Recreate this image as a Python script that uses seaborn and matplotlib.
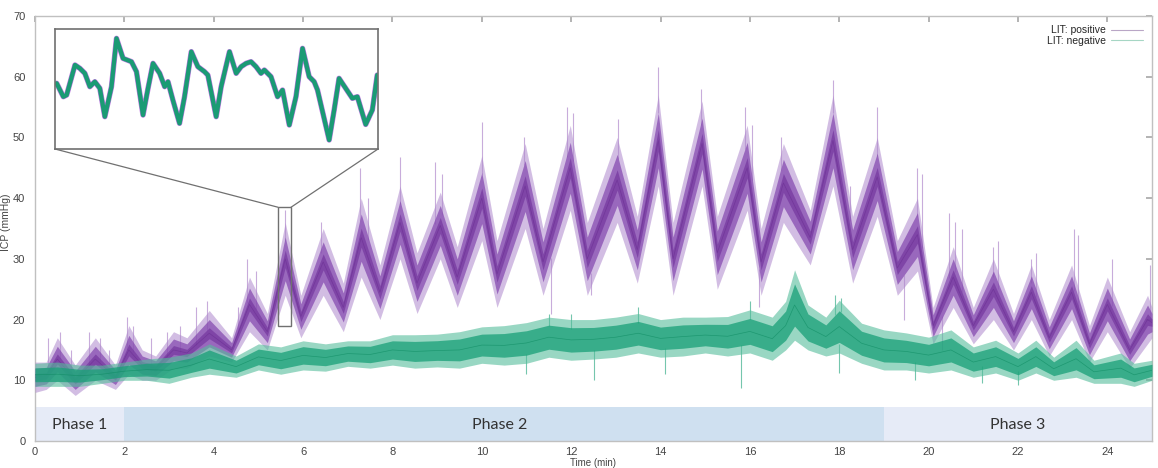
import numpy as np
import pandas as pd
import seaborn as sns
import matplotlib.pyplot as plt
from matplotlib.patches import Rectangle, ConnectionPatch
from matplotlib.lines import Line2D

sns.set_theme(style="white")
plt.rcParams['font.family'] = ['Liberation Sans', 'DejaVu Sans']

# LIT: positive -- band (low / high) at peaks and troughs
pos_t = [0.0, 0.25, 0.5, 0.9, 1.35, 1.8, 2.1, 2.4, 2.7, 3.1, 3.4, 3.9, 4.4, 4.8, 5.2,
         5.6, 5.95, 6.45, 6.9, 7.3, 7.72, 8.17, 8.55, 9.07, 9.45, 10.0, 10.34, 10.97,
         11.37, 11.98, 12.36, 13.03, 13.48, 13.95, 14.28, 14.93, 15.27, 15.94, 16.25,
         16.75, 17.35, 17.86, 18.3, 18.85, 19.3, 19.75, 20.1, 20.55, 21.0, 21.45, 21.9,
         22.3, 22.7, 23.2, 23.6, 24.0, 24.5, 24.9, 25.0]
pos_lo = [8, 8.5, 10, 7.5, 10, 8.5, 11, 10, 10, 12, 12, 14, 13, 18, 15, 24, 17, 24, 18,
          27, 20, 30, 21, 30, 22, 33, 22, 35, 24, 38, 24, 36, 26, 42, 24, 42, 25, 38,
          24, 36, 29, 42, 26, 37, 24, 28, 16, 22, 16, 20, 15, 20, 14, 20, 13, 18, 12,
          16, 17]
pos_hi = [13, 13, 17, 12.5, 17, 12.5, 19, 15, 14, 18, 17, 21.5, 17, 27, 21, 36, 24, 35,
          26, 40, 29, 42, 31, 41, 32, 47, 33, 49, 35, 52, 36, 50, 37, 57, 36, 56, 37,
          52, 35, 49, 38, 57, 37, 50, 33, 40, 22, 32, 22, 30, 21, 29, 20, 29, 19, 27,
          18, 24, 22]

# LIT: negative
neg_t = [0, 0.5, 1, 1.5, 2, 2.5, 3, 3.5, 3.9, 4.5, 5, 5.5, 6, 6.5, 7, 7.5, 8, 8.5, 9,
         9.5, 10, 10.5, 11, 11.5, 12, 12.5, 13, 13.5, 14, 14.5, 15, 15.5, 16, 16.5,
         16.8, 17.0, 17.3, 17.7, 18.0, 18.5, 19, 19.5, 20, 20.5, 21, 21.5, 22, 22.4,
         22.8, 23.3, 23.7, 24.3, 24.6, 25]
neg_lo = [9, 9, 9, 9.5, 10, 10, 9.5, 10.5, 11, 10.5, 11.7, 11, 11.7, 11.5, 12.3, 12,
          12.5, 12, 12.2, 12, 12.8, 12.5, 12.8, 13.8, 13.3, 13.5, 13.8, 14.5, 13.8, 14,
          14.5, 14, 14.5, 13.3, 15, 16.6, 15, 14, 14.5, 12.8, 11.7, 11.7, 11.2, 11.7,
          10.5, 11.2, 10, 11.2, 10, 10.5, 9.5, 9.5, 9, 10]
neg_hi = [12.8, 13, 12.5, 12.5, 13, 13.5, 13.8, 14.5, 16, 14, 16, 15.5, 16.5, 16, 16.5,
          16.5, 17.5, 17.5, 17.6, 18, 18.8, 19, 19.5, 20.4, 20, 20, 20.4, 21, 20, 20.4,
          20.4, 20.5, 21.6, 20.4, 23, 28.2, 22.4, 20.4, 23.2, 19.4, 18.3, 17.8, 17.1,
          18.3, 15.5, 16.6, 14.5, 16.6, 13.8, 16.6, 13.3, 14.5, 12.8, 13.3]

# single spikes that stick out of the bands
pos_spike_t = [0.3, 0.55, 0.8, 1.2, 1.45, 1.65, 2.05, 2.2, 2.6, 2.95, 3.25, 3.6, 3.85,
               4.55, 4.75, 4.95, 5.6, 6.4, 7.28, 7.45, 8.17, 8.95, 9.1, 10.0, 10.95,
               11.9, 12.05, 13.05, 13.95, 14.9, 15.9, 16.05, 16.7, 17.86, 18.25, 18.85,
               19.74, 19.85, 20.45, 20.6, 20.75, 21.45, 21.55, 22.3, 22.4, 23.25, 23.35,
               24.1, 24.95]
pos_spike_top = [17, 18, 15, 18, 17, 15, 20.5, 19, 17, 18, 19, 22, 23, 22, 30, 28, 38,
                 36, 45, 40, 46.8, 46, 44, 52.6, 50, 55, 54, 53, 61.6, 58, 55, 52, 50,
                 59.5, 42, 55, 45, 44, 37.5, 36, 35, 32, 33, 30, 31, 35, 34, 30, 29]
pos_dip_t = [11.55, 12.45, 16.2, 19.45, 20.3]
pos_dip_low = [21, 24, 22, 20, 15]
neg_spike_t = [11.5, 12.0, 13.5, 16.0, 17.9, 18.05]
neg_spike_top = [21, 21, 22, 23, 24, 23.5]
neg_dip_t = [11.0, 12.5, 14.1, 15.8, 18.0, 19.7, 21.2, 22.0]
neg_dip_low = [11.0, 10.0, 11.0, 8.8, 11.2, 10.0, 9.5, 9.3]

phase_names = ['Phase 1', 'Phase 2', 'Phase 3']
phase_start = [0, 2, 19]
phase_end = [2, 19, 25]
phase_colors = ['#e6ebf7', '#cfe0f0', '#e6ebf7']
phase_label_x = [1.0, 10.4, 22.0]

# zoomed window (5.44 - 5.73 min)
zoom_t = [5.4415, 5.4475, 5.4505, 5.458, 5.4624, 5.4669, 5.4714, 5.4759, 5.4804,
          5.4849, 5.4909, 5.4954, 5.5013, 5.5089, 5.5134, 5.5193, 5.5238, 5.5283,
          5.5343, 5.5388, 5.5418, 5.5462, 5.5522, 5.5567, 5.5628, 5.5687, 5.5747,
          5.5777, 5.5852, 5.5897, 5.5972, 5.6032, 5.6077, 5.6122, 5.6166, 5.6211,
          5.6256, 5.6286, 5.6346, 5.6405, 5.645, 5.6511, 5.6571, 5.663, 5.669, 5.6735,
          5.6765, 5.687, 5.6915, 5.6959, 5.7019, 5.7079, 5.7124, 5.7199, 5.7259, 5.7303]
zoom_icp = [29.63, 27.44, 27.72, 32.62, 32.07, 31.26, 29.08, 29.89, 28.81, 24.18,
            29.08, 36.97, 33.7, 33.16, 31.53, 24.45, 28.81, 32.89, 31.26, 29.08, 29.89,
            26.9, 23.09, 27.44, 34.8, 32.35, 31.53, 30.98, 24.18, 29.08, 34.8, 31.26,
            32.35, 32.89, 33.16, 32.35, 31.26, 31.8, 30.71, 27.44, 28.53, 22.82, 27.44,
            35.34, 30.71, 29.89, 28.53, 20.37, 25.27, 30.44, 28.81, 27.18, 27.44, 22.91,
            25.27, 30.98]

pos = pd.DataFrame({'t': pos_t, 'lo': pos_lo, 'hi': pos_hi})
pos['mid'] = (pos['lo'] + pos['hi']) / 2
pos['w'] = pos['hi'] - pos['lo']
neg = pd.DataFrame({'t': neg_t, 'lo': neg_lo, 'hi': neg_hi})
neg['mid'] = (neg['lo'] + neg['hi']) / 2
neg['w'] = neg['hi'] - neg['lo']

fig = plt.figure(figsize=(11.58, 4.68), dpi=100)
ax = fig.add_axes([35 / 1158, 27 / 468, 1117 / 1158, 425 / 468])

for s, e, c, name, lx in zip(phase_start, phase_end, phase_colors, phase_names, phase_label_x):
    ax.fill_between([s, e], 0, 5.6, color=c, lw=0, zorder=1)
    ax.text(lx, 2.6, name, ha='center', va='center', fontsize=11.5, color='#333333',
            family=['Lato', 'DejaVu Sans'], zorder=2)

# purple band
ax.vlines(pos_spike_t, np.interp(pos_spike_t, pos_t, pos_hi) - 3, pos_spike_top,
          color='#9b68bf', lw=0.8, alpha=0.55, zorder=2)
ax.vlines(pos_dip_t, pos_dip_low, np.interp(pos_dip_t, pos_t, pos_lo) + 2,
          color='#9b68bf', lw=0.8, alpha=0.55, zorder=2)
ax.fill_between(pos['t'], pos['lo'], pos['hi'], color='#ae88cc', alpha=0.55, lw=0, zorder=3)
ax.fill_between(pos['t'], pos['mid'] - 0.3 * pos['w'], pos['mid'] + 0.3 * pos['w'],
                color='#8245ad', alpha=0.7, lw=0, zorder=3)
ax.fill_between(pos['t'], pos['mid'] - 0.12 * pos['w'], pos['mid'] + 0.12 * pos['w'],
                color='#6e2f99', alpha=0.6, lw=0, zorder=3)
sns.lineplot(data=pos, x='t', y='mid', color='#64288c', lw=0.5, alpha=0.5, ax=ax, zorder=4)

# green band
ax.vlines(neg_spike_t, np.interp(neg_spike_t, neg_t, neg_hi) - 1.5, neg_spike_top,
          color='#3aae8a', lw=0.8, alpha=0.7, zorder=5)
ax.vlines(neg_dip_t, neg_dip_low, np.interp(neg_dip_t, neg_t, neg_lo) + 1.5,
          color='#3aae8a', lw=0.8, alpha=0.7, zorder=5)
ax.fill_between(neg['t'], neg['lo'], neg['hi'], color='#55bd9b', alpha=0.6, lw=0, zorder=5)
ax.fill_between(neg['t'], neg['mid'] - 0.3 * neg['w'], neg['mid'] + 0.3 * neg['w'],
                color='#18a077', alpha=0.75, lw=0, zorder=5)
sns.lineplot(data=neg, x='t', y='mid', color='#0c8a60', lw=0.5, alpha=0.6, ax=ax, zorder=6)

ax.set_xlim(0, 25)
ax.set_ylim(0, 70)
ax.set_xticks(range(0, 25, 2))
ax.set_yticks(range(0, 71, 10))
ax.set_xlabel('')
ax.set_ylabel('')
ax.tick_params(direction='in', length=4, color='#aaaaaa', labelsize=8,
               labelcolor='#444444', top=True, right=True)
ax.tick_params(axis='x', pad=4)
ax.tick_params(axis='y', pad=7)
for sp in ax.spines.values():
    sp.set_color('#c0c0c0')
    sp.set_linewidth(1)

fig.text(6 / 1158, 0.525, 'ICP (mmHg)', rotation=90, ha='center', va='center',
         fontsize=7.5, color='#444444')
fig.text(593 / 1158, 0.5 / 468, 'Time (min)', ha='center', va='bottom', fontsize=7,
         color='#444444')

handles = [Line2D([], [], color='#b9a6c6', lw=0.8), Line2D([], [], color='#a6d6c4', lw=0.8)]
ax.legend(handles, ['LIT: positive', 'LIT: negative'], loc='upper right', frameon=False,
          markerfirst=False, fontsize=7.5, handlelength=3.0, handletextpad=0.5,
          labelspacing=0.05, borderaxespad=0.5)

# zoom box and inset
ax.add_patch(Rectangle((5.44, 18.9), 0.29, 19.6, fill=False, ec='#707070', lw=1, zorder=8))
ax_in = fig.add_axes([55 / 1158, (468 - 149) / 468, 323 / 1158, 120 / 468])
ax_in.set_facecolor('white')
sns.lineplot(x=zoom_t, y=zoom_icp, color='#9a2fd0', lw=3.9, alpha=0.65, ax=ax_in)
sns.lineplot(x=zoom_t, y=zoom_icp, color='#1a9b74', lw=3.1, ax=ax_in)
ax_in.set_xlim(5.44, 5.731)
ax_in.set_ylim(18.9, 38.5)
ax_in.set_xticks([])
ax_in.set_yticks([])
for sp in ax_in.spines.values():
    sp.set_color('#707070')
    sp.set_linewidth(1.2)

for xa, xb in [(5.44, 5.44), (5.731, 5.73)]:
    con = ConnectionPatch(xyA=(xa, 18.9), coordsA=ax_in.transData,
                          xyB=(xb, 38.5), coordsB=ax.transData,
                          color='#707070', lw=0.9)
    fig.add_artist(con)

fig.savefig('out.png', dpi=100)
